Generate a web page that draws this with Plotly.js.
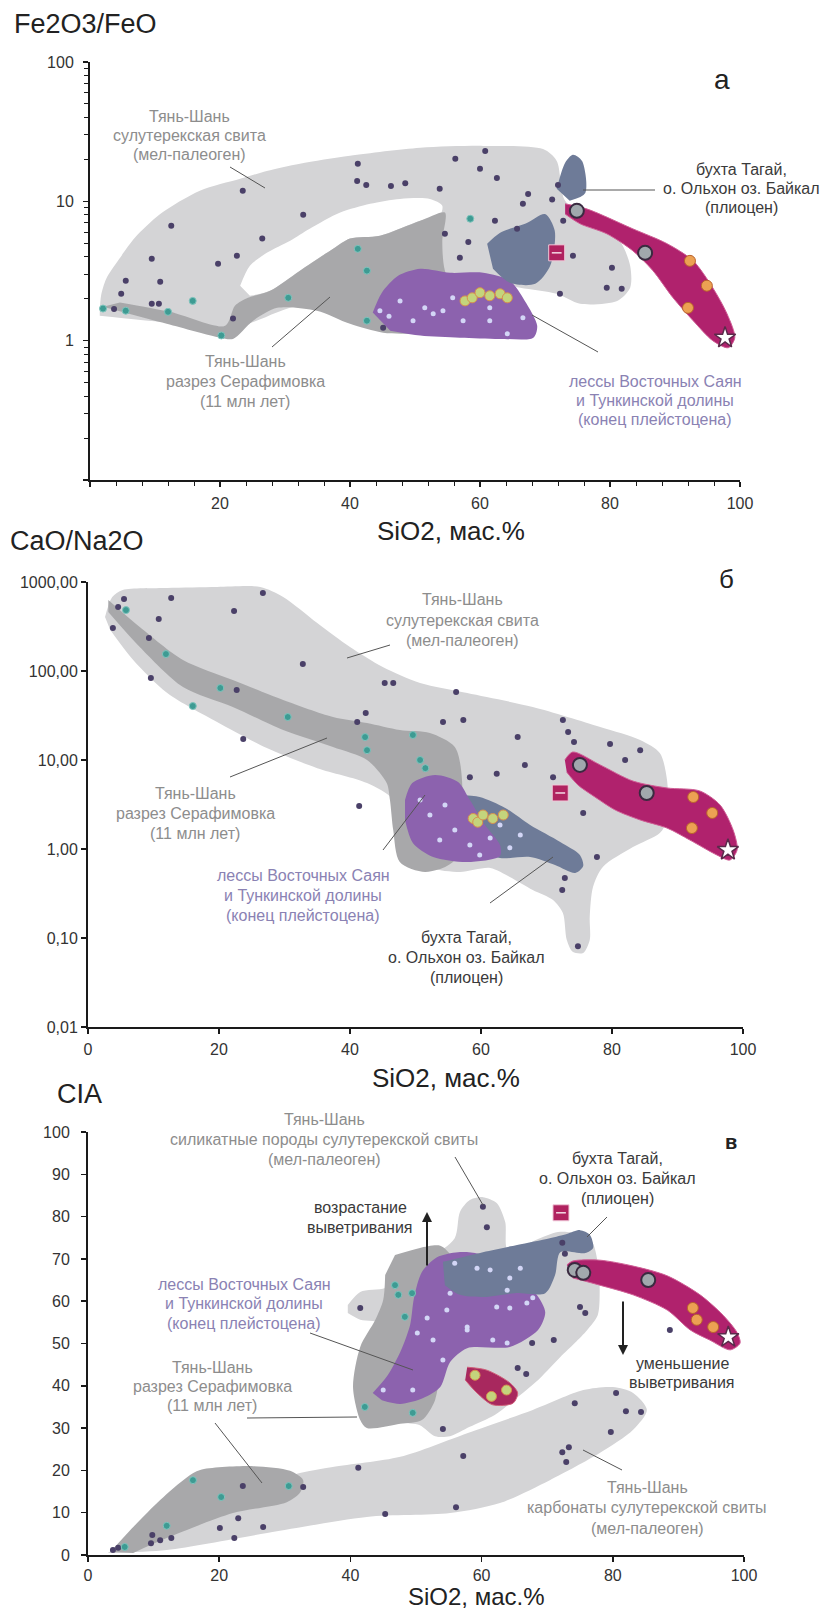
<!DOCTYPE html>
<html><head><meta charset="utf-8">
<script src="https://cdn.plot.ly/plotly-3.0.1.min.js"></script>
<style>html,body{margin:0;padding:0;background:#fff}#c{width:829px;height:1613px}</style>
</head><body><div id="c"></div>
<script>
// ================= DATA (SiO2 wt.% vs ratio / CIA) =================
// ---- Panel а : Fe2O3/FeO ----
const aSulX=[1.5,1.7,2.5,4.3,6.9,10.8,16.9,23.1,27.2,32.3,40,50.8,60.5,69.7,71.8,73.1,78.5,81.5,83.1,83.1,81.1,75.4,71.8,66.2,61.5,55.4,47.7,32.3,23.1,12.3,1.5];
const aSulY=[1.59,2.1,2.78,3.74,5.47,8.1,11.9,14.5,16.5,18.6,21.2,24.2,25,23.7,19.5,10.1,6.67,5.21,3.45,2.4,1.93,1.84,2.17,2.4,2.69,1.93,1.39,1.78,1.28,1.35,1.51];
const aHoleX=[23.1,24.6,27.2,30.8,33.8,38.5,43.1,47.7,52.3,54.2,53.8,50.8,44.6,40,37.4,32.3,27.7,24.6];
const aHoleY=[2.48,3.45,4.27,5.21,6.35,8.3,9.6,10.4,10.4,9.3,7.9,7.25,5.66,5.4,4.56,3.18,2.28,2.10];
const aSerX=[2,11.8,20,22,25.1,28.8,34.9,40,45.1,50.8,58.5,60,56.9,54.6,54.2,54.6,50.8,44.6,40,37.4,32.3,27.7,24.3,22.3,20.8,12.3,4.6];
const aSerY=[1.75,1.32,1.05,1.03,1.39,1.72,1.64,1.32,1.14,1.12,1.09,1.39,1.93,3.18,5.21,8.3,7.25,5.66,5.4,4.56,3.18,2.28,2.03,1.78,1.28,1.61,1.88];
const aLoessX=[43.5,44.9,47.4,50.8,55.4,60.5,64.6,66.9,68.8,68.2,63.1,56.9,50.8,46.2];
const aLoessY=[1.59,2.21,2.92,3.28,3.07,3.07,2.69,1.93,1.28,1.05,1.03,1.05,1.09,1.18];
const aTagX=[61.1,63.1,67.2,70,71.5,70.8,68.5,64.6,62];
const aTagY=[4.96,5.95,7.0,8.1,6.15,3.45,2.56,2.6,3.28];
const aSpikeX=[71.8,73.1,74.3,75.7,76.2,73.8];
const aSpikeY=[12.3,18.9,21.6,19.5,11.5,10.1];
const aPliX=[73.1,76.5,83.5,88.8,92.8,95.8,98,99.2,98.2,95.8,92.8,89.7,86.6,83.5,79.5,75.4,73.1];
const aPliY=[9.6,8.8,6.35,4.96,3.74,2.4,1.56,1.05,0.89,1.0,1.39,2.03,3.18,4.42,5.85,6.9,8.1];
const aDarkX=[23.5,32.8,12.5,26.5,22.6,9.5,41.2,41.1,42.5,46.3,48.5,19.7,10.8,5.5,4.8,9.5,10.6,22,3.7,45.1,56.2,60.8,60,62.6,53.8,67.4,66.6,71.1,72,62.3,65.7,54.6,58.2,56.9,72.8,74.3,80.3,79.5,81.8,72.3];
const aDarkY=[11.9,8.0,6.67,5.4,4.07,3.87,18.6,14,13.1,12.9,13.5,3.56,2.65,2.69,2.17,1.84,1.84,1.44,1.69,1.24,20.2,23,17.1,14.7,12.3,11.3,9.6,10.3,13.1,7.25,6.35,5.85,5.1,3.94,7.25,4.07,3.34,2.4,2.36,2.17];
const aTealX=[5.5,12,15.8,20.2,30.5,41.2,42.6,42.6,58.5,2];
const aTealY=[1.64,1.61,1.93,1.09,2.03,4.56,3.18,1.39,7.5,1.7];
const aLightX=[44.6,49.7,51.5,52.8,55.8,57.4,61.5,61.5,64.2,66.6,46,54.3,47.7];
const aLightY=[1.64,1.39,1.72,1.56,2.03,1.39,1.72,1.39,1.12,1.46,1.5,1.64,1.93];
const aYelX=[57.7,58.8,60,61.5,63.1,64.2];
const aYelY=[1.93,2.03,2.21,2.1,2.17,2.03];
const aGrayX=[74.9,85.4], aGrayY=[8.55,4.27];
const aOrX=[92.3,94.9,92], aOrY=[3.74,2.48,1.72];
const aStarX=[97.7], aStarY=[1.05];
const aSqX=[71.8], aSqY=[4.27];

// ---- Panel б : CaO/Na2O ----
const bSulX=[2.6,3.7,5.3,12.1,19.7,26.3,29.8,35,40,45,50.7,57.9,67.9,78.2,84.3,87.3,88.4,88.4,87.3,83.2,78.6,77.1,76.6,76.6,75.6,74,73.1,72.5,71,67.9,64.4,61.4,56.8,52.2,48.4,46.6,42.6,35,27.3,19.7,12.1,6.9,3.4];
const bSulY=[405,678,813,857,879,879,678,346,186,111,73.3,56.6,39.4,23.5,16.8,12,5.96,2.12,1.51,1.05,0.628,0.374,0.172,0.095,0.068,0.070,0.095,0.191,0.267,0.346,0.485,0.612,0.552,0.612,0.857,3.55,5.52,8.1,13.6,26.7,56.6,133,289];
const bSerX=[3.1,7.9,14.5,22.1,29.8,37.4,42.6,47.6,52.2,56,57.1,56,51.5,47.6,46.6,46.1,45.6,42.6,37.4,29.8,22.1,14.5,7.9,3.1];
const bSerY=[628,312,133,79.2,47.2,30.4,26,21.7,20.1,14,5.96,0.752,0.552,0.714,1.63,3.55,5.52,10,14,21.7,39.4,66.1,186,460];
const bLoessX=[48.4,49.5,53,56.5,58.3,60.6,62.9,62.9,57.9,52.7,49.6,48.4];
const bLoessY=[3.55,5.52,6.8,5.66,3.55,1.86,1.11,0.835,0.714,0.813,1.17,2.12];
const bTagX=[56.5,59.8,63.7,67.5,72.1,75.1,75.6,74.4,71.3,67.5,62.9,59.8,58.3,57.1];
const bTagY=[4.04,3.84,2.89,1.86,1.2,0.857,0.644,0.538,0.661,0.813,0.792,0.975,1.63,2.6];
const bPliX=[72.8,74,78.2,83.2,88.4,93.4,96.5,98.5,99.1,98,96,91.9,88.4,84.3,80.5,77.4,74.8,73.1];
const bPliY=[10,12.3,8.8,5.8,4.85,4.49,3.12,1.63,0.975,0.752,0.857,1.26,1.72,2.12,2.74,3.84,5.24,7.3];
const bDarkX=[5.5,3.8,9.3,9.6,12.7,22.3,26.7,32.8,22.7,23.7,45.3,46.6,42.4,41.1,41.4,56.2,54.2,57.3,65.6,62.4,66.7,71,73.3,74.2,79.7,82,84.3,75.6,58.3,77.7,72.8,72.4,74.8,10.8,4.6,72.5];
const bDarkY=[644,304,235,83.4,661,472,752,120,61.2,17.2,73.3,73.3,33.7,26.7,3.04,58.1,26.7,28.1,18.1,7.0,8.8,6.4,20.6,15.9,15.1,10,12.9,2.54,6.4,0.813,0.472,0.346,0.081,384,524,28.1];
const bTealX=[5.8,11.9,20.2,16,30.5,42.3,42.6,49.6,50.7,51.5];
const bTealY=[484,155,64.4,40.4,30.4,18.1,12.9,19.1,10,8.1];
const bLightX=[50.7,52.2,54.5,56,58.3,61.4,62.9,66,53.7,59.8,64.4];
const bLightY=[3.55,2.41,3.12,1.63,1.11,1.33,1.86,1.44,1.26,0.857,1.03];
const bYelX=[58.8,59.5,60.3,61.8,63.4], bYelY=[2.2,2.0,2.41,2.2,2.41];
const bGrayX=[75.1,85.3], bGrayY=[8.8,4.26];
const bOrX=[92.4,95.3,92.2], bOrY=[3.84,2.54,1.72];
const bStarX=[97.7], bStarY=[0.975];
const bSqX=[72.1], bSqY=[4.26];

// ---- Panel в : CIA ----
const cCarbX=[3,12,27.3,42.5,55.2,62.8,70.4,78,83.1,85.2,83.1,80,75.5,67.8,57.8,47.6,37.3,32.3,17.1,6.4];
const cCarbY=[0.5,1.2,5.2,9,9.9,12.3,17.7,24.1,29.6,34.3,38.3,39.7,39,34.3,28.8,23.2,20.8,19.4,13,3.5];
const cSerLX=[3.4,6.9,11,15.1,17.1,25.2,30.8,32.8,32.3,30.3,22.1,12,6.9];
const cSerLY=[0.7,6.6,13,18.4,20.1,21,19.9,17.7,14.7,12.5,9.9,4,0.5];
const cSilX=[39.6,41.5,45.3,47.6,52.1,55.9,56.7,58.2,60.2,62.3,63.6,64,68.9,72,76.5,77.7,78,77.7,76.1,74.2,72,68.9,65.9,62,58.2,55.2,52.9,50.6,47.6,45.3,41.5,39.6];
const cSilY=[59.1,62.2,63.1,66.2,70.2,74.9,81.1,83.9,84.6,83.2,78.7,72.1,74.9,76.4,74.9,69.3,62.6,56.7,53.2,50.1,46.8,41.8,37.8,33.1,30.3,28.1,28.1,30.7,31.9,54.4,55.6,57.2];
const cSerUX=[46.8,50.6,53.7,55.5,54.9,54,52.9,50.9,47.6,42.5,41.5,40.4,41.5,43.8,45,45.3];
const cSerUY=[70.9,72.6,73.1,70.2,60.3,48.5,36.6,31.9,31,30,31.9,39.7,49.2,55.6,60.3,66.2];
const cLoessX=[43.4,45.6,47.6,49.1,49.7,50.9,53.2,56.4,59.5,62,65.9,68.4,69.7,68.6,64.3,57.8,55.2,53.7,51.1,47.6,44.8];
const cLoessY=[38.3,42.3,48,54.4,60.8,66.9,70.4,71.6,71.2,68.6,65,61.5,57.4,53.2,49.2,48.9,45.6,39.7,37.1,35.7,36.6];
const cTagX=[54.1,60.2,65.4,70.4,73,75,76.5,77,75.8,72,71.2,69.7,65.1,60.2,56.7,54.4];
const cTagY=[69.3,71.6,73.3,74.9,75.9,76.8,75.7,72.6,71.4,71.6,66.2,61.9,61.9,61,61.5,63.8];
const cPliX=[73,73.9,78,83.1,88.3,93.3,96.8,98.9,99.4,97.9,94.8,91.8,88.3,83.1,78,73.9];
const cPliY=[68.6,69.5,69.7,68.3,66,61.5,56.7,52.7,50.1,48.5,50.8,53.2,57.9,61.5,63.8,65.5];
const cBlobX=[57.8,60.8,64.3,65.5,64.8,61.7,59.3,57.5];
const cBlobY=[44.4,43.7,40.7,38.3,35.9,35.5,38.3,41.4];
const cDarkX=[60.2,60.8,72.3,72.7,75,75.8,41.5,88.7,71,67.7,65.5,66.8,54.1,20.1,22.9,22.3,26.7,23.6,32.8,41.2,45.3,12.7,11,9.6,9.8,3.8,4.6,74.2,80.5,82,84.3,79.7,72.3,73.3,72.9,57.2,56.1];
const cDarkY=[82.3,77.5,73.8,71.2,58.6,57.2,58.4,53.2,50.8,50.1,44.2,42.8,29.8,6.4,8.7,4,6.6,16.3,16.1,20.6,9.7,4,3.5,2.8,4.7,1.2,1.7,35.9,38.3,34,33.8,29.1,24.3,25.5,22,23.4,11.3];
const cTealX=[16,20.3,12,30.6,5.6,47.3,48.3,42.2,49.5,49.4,46.8];
const cTealY=[17.7,13.7,6.9,16.3,1.9,61.5,56.3,35,33.6,61.9,63.8];
const cLightX=[55.9,59.3,55.2,64.3,63.9,62.3,64.3,66.9,67.8,57.8,51.7,54.7,50.2,52.6,57.8,61.7,63.9,49.5,54.1,45,61.3,65.9];
const cLightY=[69,67.8,61.9,65.5,62.6,58.6,58.4,59.6,60.8,53.9,56,57.9,52.5,50.8,53.2,50.8,50.1,39,46.1,39,67.4,67.8];
const cYelX=[59,61.5,63.8], cYelY=[42.5,37.5,39];
const cGrayX=[74.2,75.5,85.4], cGrayY=[67.4,66.7,65];
const cOrX=[92.2,92.8,95.3], cOrY=[58.4,55.6,53.9];
const cStarX=[97.6], cStarY=[51.5];
const cSqX=[72.1], cSqY=[80.9];

// ---- tick labels ----
const xTickVals=[0,20,40,60,80,100];
const xTickTextA=['','20','40','60','80','100'];
const xTickText=['0','20','40','60','80','100'];
const yTickValsA=[0.1,1,10,100], yTickTextA=['','1','10','100'];
const yTickValsB=[0.01,0.1,1,10,100,1000], yTickTextB=['0,01','0,10','1,00','10,00','100,00','1000,00'];
const yTickValsC=[0,10,20,30,40,50,60,70,80,90,100];

// ================= DRAWING =================
const W=829,H=1613;
const F='Liberation Sans, Arial, sans-serif';
const C={light:'#d4d4d6',mid:'#a8a8aa',tag:'#6e7b98',loess:'#8c62ae',pli:'#b0226d',dark:'#4a4068',teal:'#3e9b93'};
const traces=[];
function poly(x,y,ax,fill,lc,lw){traces.push({type:'scatter',mode:'lines',x:x,y:y,xaxis:'x'+ax,yaxis:'y'+ax,fill:'toself',fillcolor:fill,line:{color:lc||fill,width:lw||0,shape:'spline',smoothing:0.8},hoverinfo:'skip'});}
function pts(x,y,ax,m){traces.push({type:'scatter',mode:'markers',x:x,y:y,xaxis:'x'+ax,yaxis:'y'+ax,marker:m,hoverinfo:'skip'});}
const mDark={size:6,color:C.dark};
const mTeal={size:7,color:C.teal,line:{color:'#7fc4bd',width:1}};
const mLight={size:5,color:'#d3d6f6'};
const mYel={size:10,color:'#c4d47c',line:{color:'#d8904e',width:1}};
const mGray={size:14,color:'#a1a8ad',line:{color:'#3a2a40',width:2}};
const mOr={size:11,color:'#eca153',line:{color:'#b9622c',width:1}};
const mStar={size:16,symbol:'star',color:'#ffffff',line:{color:'#5a2a4a',width:1.5}};
const mSq={size:16,symbol:'square',color:'#b0225f',line:{color:'#f0c8d8',width:1}};
const mSqDash={size:7,symbol:'line-ew',color:'#fff',line:{color:'#f3dbe5',width:1.5}};
function groups(ax,d){
  pts(d.dx,d.dy,ax,mDark); pts(d.tx,d.ty,ax,mTeal); pts(d.lx,d.ly,ax,mLight);
  pts(d.yx,d.yy,ax,mYel); pts(d.gx,d.gy,ax,mGray); pts(d.ox,d.oy,ax,mOr);
  pts(d.sx,d.sy,ax,mStar); pts(d.qx,d.qy,ax,mSq); pts(d.qx,d.qy,ax,mSqDash);
}
// panel a
poly(aSulX,aSulY,'',C.light); poly(aHoleX,aHoleY,'','#ffffff'); poly(aSerX,aSerY,'',C.mid);
poly(aLoessX,aLoessY,'',C.loess); poly(aTagX,aTagY,'',C.tag); poly(aSpikeX,aSpikeY,'',C.tag);
poly(aPliX,aPliY,'',C.pli,'#cf5e95',1);
groups('',{dx:aDarkX,dy:aDarkY,tx:aTealX,ty:aTealY,lx:aLightX,ly:aLightY,yx:aYelX,yy:aYelY,gx:aGrayX,gy:aGrayY,ox:aOrX,oy:aOrY,sx:aStarX,sy:aStarY,qx:aSqX,qy:aSqY});
// panel b
poly(bSulX,bSulY,'2',C.light); poly(bSerX,bSerY,'2',C.mid); poly(bTagX,bTagY,'2',C.tag);
poly(bLoessX,bLoessY,'2',C.loess); poly(bPliX,bPliY,'2',C.pli,'#cf5e95',1);
groups('2',{dx:bDarkX,dy:bDarkY,tx:bTealX,ty:bTealY,lx:bLightX,ly:bLightY,yx:bYelX,yy:bYelY,gx:bGrayX,gy:bGrayY,ox:bOrX,oy:bOrY,sx:bStarX,sy:bStarY,qx:bSqX,qy:bSqY});
// panel c
poly(cCarbX,cCarbY,'3',C.light); poly(cSerLX,cSerLY,'3',C.mid); poly(cSilX,cSilY,'3',C.light);
poly(cSerUX,cSerUY,'3',C.mid); poly(cLoessX,cLoessY,'3',C.loess); poly(cTagX,cTagY,'3',C.tag);
poly(cPliX,cPliY,'3',C.pli,'#cf5e95',1); poly(cBlobX,cBlobY,'3','#a8285e','#d0607a',1);
groups('3',{dx:cDarkX,dy:cDarkY,tx:cTealX,ty:cTealY,lx:cLightX,ly:cLightY,yx:cYelX,yy:cYelY,gx:cGrayX,gy:cGrayY,ox:cOrX,oy:cOrY,sx:cStarX,sy:cStarY,qx:cSqX,qy:cSqY});

// axes
const axBase={showline:true,linecolor:'#1a1a1a',linewidth:2,showgrid:false,zeroline:false,ticks:'outside',ticklen:5,tickwidth:1.5,tickcolor:'#1a1a1a',tickfont:{family:F,size:16,color:'#333'},fixedrange:true,tickmode:'array'};
const minorX=[];for(let v=4;v<100;v+=4){if(v%20)minorX.push(v);}
const minorYA=[];[0.1,1,10].forEach(d=>{for(let k=2;k<10;k++)minorYA.push(d*k);});
const layout={width:W,height:H,margin:{l:0,r:0,t:0,b:0},paper_bgcolor:'#fff',plot_bgcolor:'rgba(0,0,0,0)',showlegend:false,
 xaxis:Object.assign({},axBase,{domain:[90/W,740/W],range:[0,100],anchor:'y',tickvals:xTickVals,ticktext:xTickTextA,ticklabelstandoff:3,
   minor:{tickmode:'array',tickvals:minorX,ticks:'outside',ticklen:4,tickcolor:'#1a1a1a',tickwidth:1}}),
 yaxis:Object.assign({},axBase,{type:'log',domain:[1-480/H,1-62/H],range:[-1,2],anchor:'x',tickvals:yTickValsA,ticktext:yTickTextA,ticklabelstandoff:6,
   minor:{tickmode:'array',tickvals:minorYA,ticks:'outside',ticklen:4,tickcolor:'#1a1a1a',tickwidth:1}}),
 xaxis2:Object.assign({},axBase,{domain:[88/W,743/W],range:[0,100],anchor:'y2',tickvals:xTickVals,ticktext:xTickText,ticklabelstandoff:2}),
 yaxis2:Object.assign({},axBase,{type:'log',domain:[1-1027/H,1-582/H],range:[-2,3],anchor:'x2',tickvals:yTickValsB,ticktext:yTickTextB,ticklabelstandoff:0}),
 xaxis3:Object.assign({},axBase,{domain:[88/W,744/W],range:[0,100],anchor:'y3',tickvals:xTickVals,ticktext:xTickText,ticklabelstandoff:0}),
 yaxis3:Object.assign({},axBase,{domain:[1-1555/H,1-1132/H],range:[0,100],anchor:'x3',tickvals:yTickValsC,ticklabelstandoff:8}),
 annotations:[],shapes:[]};

const gray='#8d8d8d', purp='#8a82b3', dark='#3a3a3a';
const blocks=[
 {l:['Тянь-Шань','сулутерекская свита','(мел-палеоген)'],x:189,y:117,d:19,c:gray},
 {l:['бухта Тагай,','о. Ольхон оз. Байкал','(плиоцен)'],x:741,y:170,d:19,c:dark},
 {l:['Тянь-Шань','разрез Серафимовка','(11 млн лет)'],x:245,y:362,d:20,c:gray},
 {l:['лессы Восточных Саян','и Тункинской долины','(конец плейстоцена)'],x:655,y:382,d:19,c:purp},
 {l:['Тянь-Шань','сулутерекская свита','(мел-палеоген)'],x:462,y:600,d:20,c:gray},
 {l:['Тянь-Шань','разрез Серафимовка','(11 млн лет)'],x:195,y:793,d:20,c:gray},
 {l:['лессы Восточных Саян','и Тункинской долины','(конец плейстоцена)'],x:303,y:875,d:20,c:purp},
 {l:['бухта Тагай,','о. Ольхон оз. Байкал','(плиоцен)'],x:466,y:937,d:20,c:dark},
 {l:['Тянь-Шань','силикатные породы сулутерекской свиты','(мел-палеоген)'],x:324,y:1119,d:20,c:gray},
 {l:['возрастание','выветривания'],x:360,y:1207,d:20,c:dark},
 {l:['бухта Тагай,','о. Ольхон оз. Байкал','(плиоцен)'],x:617,y:1158,d:20,c:dark},
 {l:['лессы Восточных Саян','и Тункинской долины','(конец плейстоцена)'],x:244,y:1284,d:19.5,c:purp},
 {l:['Тянь-Шань','разрез Серафимовка','(11 млн лет)'],x:212,y:1367,d:19,c:gray},
 {l:['уменьшение','выветривания'],x:682,y:1363,d:19,c:dark},
 {l:['Тянь-Шань','карбонаты сулутерекской свиты','(мел-палеоген)'],x:647,y:1487,d:20.5,c:gray}
];
blocks.forEach(b=>b.l.forEach((t,i)=>layout.annotations.push({xref:'paper',yref:'paper',x:b.x/W,y:1-(b.y+i*b.d)/H,text:t,showarrow:false,xanchor:'center',yanchor:'middle',font:{family:F,size:16,color:b.c}})));
const big=[
 {t:'Fe2O3/FeO',x:12,y:24,a:'left',s:27,ya:'middle'},{t:'SiO2, мас.%',x:451,y:531,a:'center',s:26,ya:'middle'},
 {t:'CaO/Na2O',x:8,y:541,a:'left',s:27,ya:'middle'},{t:'SiO2, мас.%',x:446,y:1078,a:'center',s:26,ya:'middle'},
 {t:'CIA',x:55,y:1094,a:'left',s:27,ya:'middle'},{t:'SiO2, мас.%',x:476,y:1612,a:'center',s:24,ya:'bottom'}
];
big.forEach(b=>layout.annotations.push({xref:'paper',yref:'paper',x:b.x/W,y:1-b.y/H,text:b.t,showarrow:false,xanchor:b.a,yanchor:b.ya,font:{family:F,size:b.s,color:'#222'}}));
[{t:'а',x:722,y:80,s:28},{t:'б',x:726,y:579,s:26},{t:'<b>в</b>',x:731,y:1142,s:20}].forEach(b=>layout.annotations.push({xref:'paper',yref:'paper',x:b.x/W,y:1-b.y/H,text:b.t,showarrow:false,xanchor:'center',yanchor:'middle',font:{family:F,size:b.s,color:'#222'}}));
// weathering arrows (panel в)
[{hx:427,hy:1212,ay:55},{hx:623,hy:1355,ay:-55}].forEach(a=>layout.annotations.push({xref:'paper',yref:'paper',x:a.hx/W,y:1-a.hy/H,ax:0,ay:a.ay,text:'',showarrow:true,arrowhead:2,arrowsize:1,arrowwidth:2,arrowcolor:'#222'}));
// leader lines
const leaders=[[230,167,265,188],[583,190,655,190],[272,347,330,297],[532,315,598,352],
 [347,658,390,645],[230,777,327,738],[383,850,425,795],[490,903,553,857],
 [455,1157,483,1205],[607,1217,587,1237],[310,1333,413,1370],[247,1418,357,1417],[215,1423,262,1483],[583,1450,622,1470]];
leaders.forEach(s=>layout.shapes.push({type:'line',xref:'paper',yref:'paper',x0:s[0]/W,y0:1-s[1]/H,x1:s[2]/W,y1:1-s[3]/H,line:{color:'#555',width:1}}));

Plotly.newPlot('c',traces,layout,{staticPlot:true,displayModeBar:false});
</script></body></html>
